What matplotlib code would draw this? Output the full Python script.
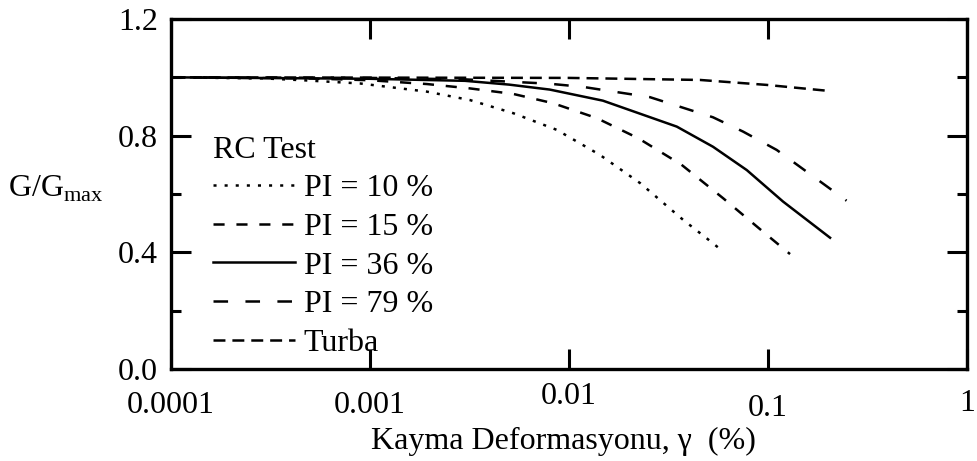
import numpy as np
import matplotlib
matplotlib.use("Agg")
from matplotlib import pyplot as plt

plt.rcParams['font.family'] = ['Liberation Serif', 'DejaVu Serif']
plt.rcParams['mathtext.fontset'] = 'custom'
plt.rcParams['mathtext.rm'] = 'Liberation Serif'
plt.rcParams['lines.scale_dashes'] = False

######### G/Gmax curves (RC tests) ############
gamma_pi10 = [0.0001, 0.0003, 0.00046, 0.00089, 0.00193, 0.00318, 0.00525,
              0.00867, 0.0143, 0.0228, 0.0375, 0.0492, 0.0563]
g_pi10 = [1.0, 0.996, 0.99, 0.979, 0.951, 0.922, 0.877,
          0.820, 0.734, 0.637, 0.511, 0.448, 0.416]

gamma_pi15 = [0.0001, 0.0005, 0.001, 0.00193, 0.00318, 0.00525, 0.00834,
              0.0138, 0.0223, 0.0368, 0.0596, 0.0966, 0.129]
g_pi15 = [1.0, 0.996, 0.99, 0.977, 0.962, 0.943, 0.911,
          0.860, 0.791, 0.700, 0.585, 0.465, 0.394]

gamma_pi36 = [0.0001, 0.001, 0.003, 0.005, 0.008, 0.0148, 0.0348,
              0.0529, 0.0782, 0.119, 0.205]
g_pi36 = [1.0, 0.995, 0.988, 0.975, 0.958, 0.920, 0.831,
          0.762, 0.682, 0.574, 0.450]

gamma_pi79 = [0.0001, 0.001, 0.003, 0.008, 0.0118, 0.0255, 0.0529,
              0.0749, 0.1106, 0.156, 0.248]
g_pi79 = [1.0, 0.998, 0.993, 0.978, 0.967, 0.932, 0.863,
          0.814, 0.751, 0.677, 0.577]

gamma_turba = [0.0001, 0.001, 0.01, 0.0455, 0.0985, 0.205]
g_turba = [1.0, 0.999, 0.998, 0.991, 0.974, 0.953]

labels = ['PI = 10 %', 'PI = 15 %', 'PI = 36 %', 'PI = 79 %', 'Turba']
x_ticks = [0.0001, 0.001, 0.01, 0.1, 1]
x_tick_labels = ['0.0001', '0.001', '0.01', '0.1', '1']
y_ticks = [0.0, 0.4, 0.8, 1.2]
#####################################

fs = 23
lw = 1.8

fig = plt.figure(figsize=(9.77, 4.61), dpi=100)
ax = fig.add_axes([0.175, 0.1996, 0.8148, 0.7592])

styles = [
    dict(ls=(0, (2.2, 5.8))),
    dict(ls=(0, (8.0, 8.5))),
    dict(ls='-'),
    dict(ls=(0, (10.5, 12.5))),
    dict(ls=(0, (8.6, 5.0))),
]
series = [(gamma_pi10, g_pi10), (gamma_pi15, g_pi15), (gamma_pi36, g_pi36),
          (gamma_pi79, g_pi79), (gamma_turba, g_turba)]

handles = []
for (gx, gy), st, lab in zip(series, styles, labels):
    ln, = ax.plot(gx, gy, color='black', lw=lw, dash_capstyle='butt', label=lab, **st)
    handles.append(ln)

ax.set_xscale('log')
ax.set_xlim(0.0001, 1)
ax.set_ylim(0, 1.2)

ax.set_xticks(x_ticks)
ax.xaxis.set_minor_locator(matplotlib.ticker.NullLocator())
ax.set_xticklabels([])
ax.set_yticks(y_ticks)
ax.set_yticks([0.2, 0.6, 1.0], minor=True)
ax.set_yticklabels(['%.1f' % v for v in y_ticks])

for s in ax.spines.values():
    s.set_linewidth(2.4)
ax.tick_params(which='major', direction='in', length=14.4, width=2.2,
               top=True, right=True, labelsize=fs, pad=9.5)
ax.tick_params(which='minor', direction='in', length=7.2, width=2.2,
               left=True, right=True)

# x tick labels, each sitting at its own height below the axis
label_dy = [-0.105, -0.105, -0.08, -0.112, -0.10]
for xv, txt, dy in zip(x_ticks, x_tick_labels, label_dy):
    ax.text(xv, dy, txt, transform=ax.get_xaxis_transform(), ha='center',
            va='center', fontsize=fs, clip_on=False)

ax.set_xlabel(u'Kayma Deformasyonu, \u03b3  (%)', fontsize=fs)
ax.xaxis.set_label_coords(0.4925, -0.165)
ax.xaxis.label.set_va('top')

ax.set_ylabel(r'G/G$_{\mathrm{max}}$', fontsize=fs, rotation=0, ha='left', va='center')
ax.yaxis.set_label_coords(-0.205, 0.515)

leg = ax.legend(handles, labels, title='RC Test', loc='upper left',
                bbox_to_anchor=(0.041, 0.694), frameon=False, alignment='left',
                fontsize=fs, title_fontsize=fs, handlelength=2.56,
                handletextpad=0.28, labelspacing=0.29, borderpad=0.3,
                borderaxespad=0.0)

fig.savefig('out.png', dpi=100)
